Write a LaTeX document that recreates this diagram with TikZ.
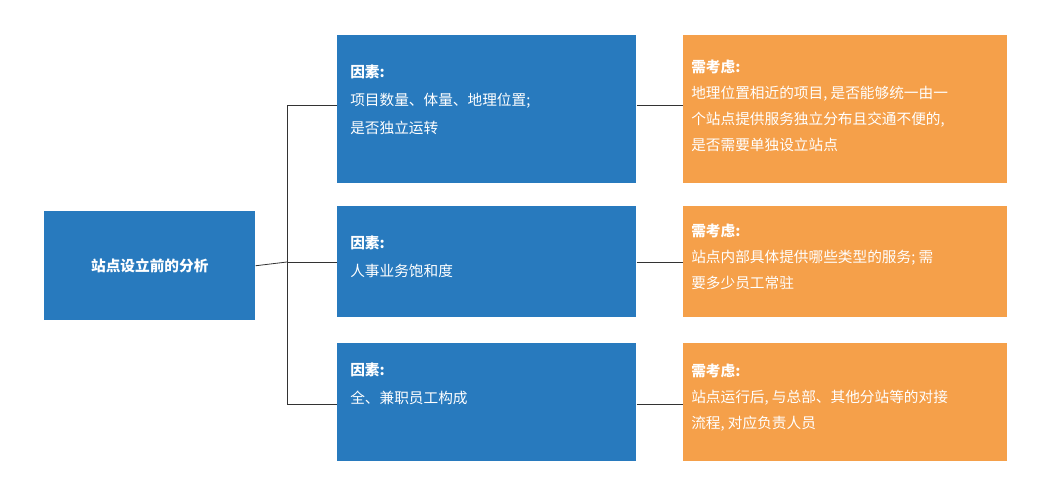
\documentclass[tikz,border=0pt]{standalone}
\usepackage{fontspec}
\setmainfont{Noto Sans CJK SC}
\begin{document}
\begin{tikzpicture}[x=0.75pt,y=-0.75pt,
  blue/.style={fill={rgb,255:red,40;green,122;blue,190},draw=none,inner sep=0,anchor=north west},
  orng/.style={fill={rgb,255:red,245;green,160;blue,74},draw=none,inner sep=0,anchor=north west},
  txt/.style={anchor=north west,text=white,font=\fontsize{11}{21}\selectfont,align=left,inner sep=0},
  txto/.style={anchor=north west,text=white,font=\fontsize{11}{19.5}\selectfont,align=left,inner sep=0},
  ln/.style={draw=black!80,line width=0.6pt}]
\useasboundingbox (0,0) rectangle (1053,495);
\node[blue,minimum width=211*0.75pt,minimum height=109*0.75pt] (L) at (44,211) {};
\node[text=white,font=\bfseries\fontsize{11}{13}\selectfont] (Lt) at (L.center) {站点设立前的分析};
\foreach \n/\y/\h in {1/35/148,2/206/111,3/343/118}{
  \node[blue,minimum width=299*0.75pt,minimum height=\h*0.75pt] (M\n) at (337,\y) {};
  \node[orng,minimum width=324*0.75pt,minimum height=\h*0.75pt] (R\n) at (683,\y) {};
}
\node[txt] (m1) at (350,65) {\textbf{因素:}\\项目数量、体量、地理位置;\\是否独立运转};
\node[txt] (m2) at (350,236) {\textbf{因素:}\\人事业务饱和度};
\node[txt] (m3) at (350,363) {\textbf{因素:}\\全、兼职员工构成};
\node[txto] (r1) at (691,60) {\textbf{需考虑:}\\地理位置相近的项目, 是否能够统一由一\\个站点提供服务独立分布且交通不便的,\\是否需要单独设立站点};
\node[txto] (r2) at (691,224) {\textbf{需考虑:}\\站点内部具体提供哪些类型的服务; 需\\要多少员工常驻};
\node[txto] (r3) at (691,364) {\textbf{需考虑:}\\站点运行后, 与总部、其他分站等的对接\\流程, 对应负责人员};
\coordinate (J) at (287,262);
\draw[ln] (L.east) -- (J);
\draw[ln] (J) |- (M1.west |- 0,105);
\draw[ln] (J) |- (M3.west |- 0,404);
\draw[ln] (J) -- (M2.west |- J);
\draw[ln] (M1.east |- 0,105) -- (R1.west |- 0,105);
\draw[ln] (M2.east |- 0,262) -- (R2.west |- 0,262);
\draw[ln] (M3.east |- 0,404) -- (R3.west |- 0,404);
\end{tikzpicture}
\end{document}
